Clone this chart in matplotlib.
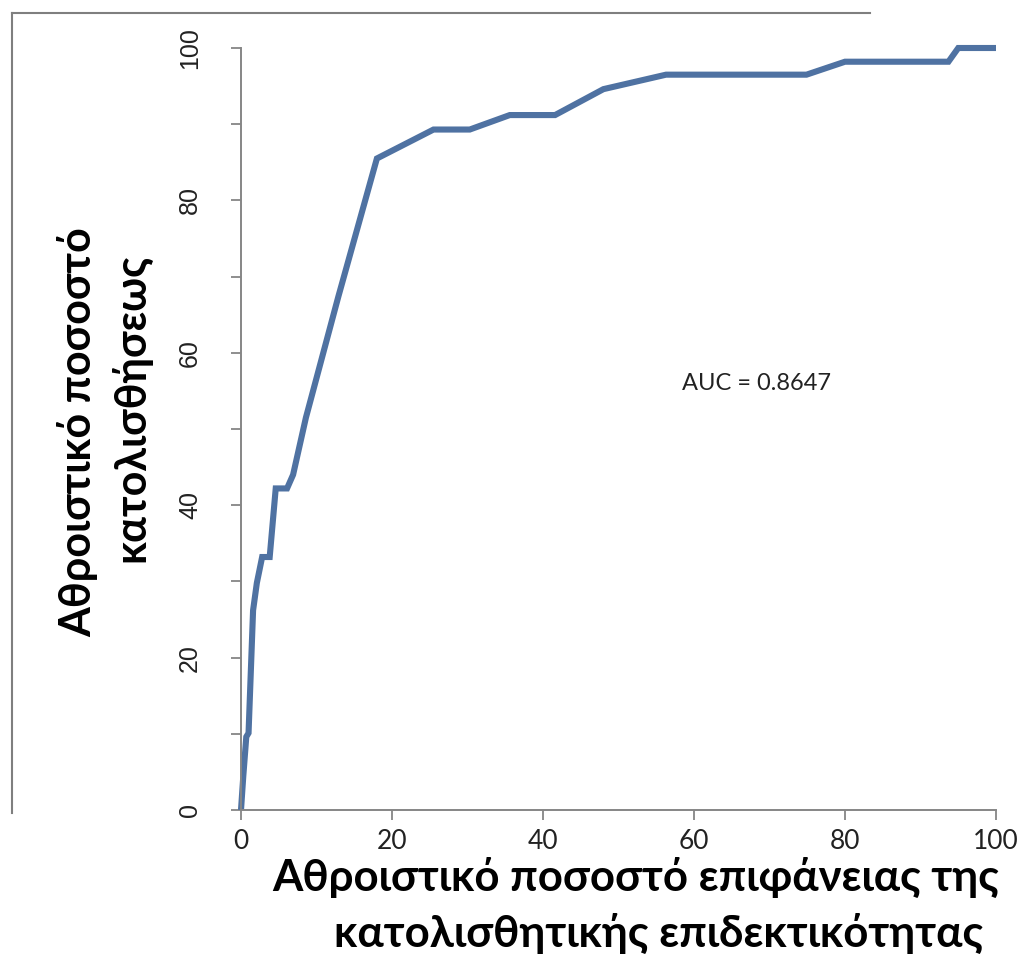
import matplotlib
matplotlib.use("Agg")
import matplotlib.pyplot as plt
from matplotlib.lines import Line2D
from matplotlib.ticker import MultipleLocator

# Cumulative % of susceptibility-map area vs cumulative % of landslides
area_pct = [0, 0.3, 0.7, 1.0, 1.6, 2.1, 2.8, 3.8, 4.6, 6.1, 6.9, 8.6, 12.9,
            18.0, 25.5, 30.3, 35.6, 41.6, 48.0, 56.3, 74.9, 80.0, 93.7, 95.0, 100]
landslide_pct = [0, 4.4, 9.6, 10.1, 26.2, 29.8, 33.2, 33.2, 42.2, 42.2, 44.0,
                 51.5, 67.4, 85.5, 89.3, 89.3, 91.2, 91.2, 94.6, 96.5, 96.5,
                 98.2, 98.2, 100, 100]
auc_text = "AUC = 0.8647"
x_label_lines = ["Αθροιστικό ποσοστό επιφάνειας της",
                 "κατολισθητικής επιδεκτικότητας"]
y_label_lines = ["Αθροιστικό ποσοστό", "κατολισθήσεως"]

W, H = 1021, 958
fig = plt.figure(figsize=(W / 100, H / 100), dpi=100)
ax = fig.add_axes([241 / W, 1 - 810 / H, (996 - 241) / W, (810 - 48) / H])

axis_grey = "#868686"
line_blue = "#4F72A2"
label_font = ["Lato", "Open Sans", "DejaVu Sans"]

ax.plot(area_pct, landslide_pct, color=line_blue, lw=4.4,
        solid_joinstyle="miter", solid_capstyle="butt", clip_on=False)

ax.set_xlim(0, 100)
ax.set_ylim(0, 100)
ax.xaxis.set_major_locator(MultipleLocator(20))
ax.yaxis.set_major_locator(MultipleLocator(20))
ax.yaxis.set_minor_locator(MultipleLocator(10))

for side in ("top", "right"):
    ax.spines[side].set_visible(False)
for side in ("left", "bottom"):
    ax.spines[side].set_color(axis_grey)
    ax.spines[side].set_linewidth(1.4)

ax.tick_params(axis="x", which="major", direction="out", length=7, width=1.3,
               color=axis_grey, pad=7, labelsize=19, labelcolor="#222222")
ax.tick_params(axis="y", which="both", direction="out", length=7, width=1.3,
               color=axis_grey, pad=21, labelsize=18, labelcolor="#222222")
for lbl in ax.get_xticklabels():
    lbl.set_family(label_font)
for lbl in ax.get_yticklabels():
    lbl.set_family(["Liberation Sans", "DejaVu Sans"])
    lbl.set_rotation(90)
    lbl.set_va("center")

ax.text(58.4, 56.0, auc_text, fontsize=17, family=label_font,
        color="#222222", ha="left", va="center")

# axis titles
fig.text(78 / W, 1 - 432 / H, y_label_lines[0], rotation=90, ha="center",
         va="center", fontsize=31, fontweight="bold", family=label_font)
fig.text(131 / W, 1 - 408 / H, y_label_lines[1], rotation=90, ha="center",
         va="center", fontsize=31, fontweight="bold", family=label_font)
fig.text(636 / W, 1 - 877 / H, x_label_lines[0], ha="center", va="center",
         fontsize=31.5, fontweight="bold", family=label_font)
fig.text(659 / W, 1 - 933 / H, x_label_lines[1], ha="center", va="center",
         fontsize=31.5, fontweight="bold", family=label_font)

# outer frame lines along the top and left edges
fig.add_artist(Line2D([12 / W, 870 / W], [1 - 13 / H, 1 - 13 / H],
                      transform=fig.transFigure, color="#7f7f7f", lw=1.5))
fig.add_artist(Line2D([12 / W, 12 / W], [1 - 13 / H, 1 - 813 / H],
                      transform=fig.transFigure, color="#7f7f7f", lw=1.5))

fig.savefig("out.png", dpi=100, facecolor="white")
